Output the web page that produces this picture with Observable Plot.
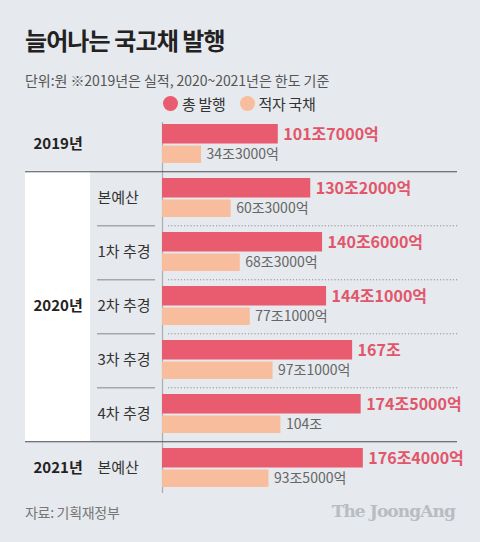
<!DOCTYPE html>
<html>
<head>
<meta charset="utf-8">
<script src="https://cdn.jsdelivr.net/npm/d3@7"></script>
<script src="https://cdn.jsdelivr.net/npm/@observablehq/plot@0.6"></script>
<style>
  html, body { margin: 0; padding: 0; background: #e6e9ed; }
  body { width: 480px; height: 542px; overflow: hidden; font-family: "Noto Sans CJK KR", "Noto Sans", sans-serif; }
  #header { position: relative; width: 480px; height: 112px; }
  #title { position: absolute; left: 25px; top: 26px; font-size: 24px; line-height: 28px; font-weight: 700; color: #222; letter-spacing: -0.9px; }
  #subtitle { position: absolute; left: 25px; top: 71px; font-size: 14px; line-height: 18px; color: #555; letter-spacing: -0.05px; }
  #legend { position: absolute; left: 163px; top: 93px; height: 20px; display: flex; align-items: center; font-size: 15px; color: #333; letter-spacing: -0.3px; }
  .sw { width: 15px; height: 15px; border-radius: 50%; display: inline-block; margin-right: 4px; }
  .item { display: flex; align-items: center; margin-right: 14px; }
  #chart svg { display: block; }
  #footer { position: relative; width: 480px; height: 40px; }
  #source { position: absolute; left: 25px; top: 0px; font-size: 14px; line-height: 20px; color: #777; letter-spacing: -0.3px; }
  #brand { position: absolute; right: 25px; top: -2px; font-family: "DejaVu Serif", "Liberation Serif", serif; font-weight: 700; font-size: 17px; line-height: 22px; color: #b9bcc0; letter-spacing: -0.9px; }
</style>
</head>
<body>
<div id="header">
  <div id="title">늘어나는 국고채 발행</div>
  <div id="subtitle">단위:원 ※2019년은 실적, 2020~2021년은 한도 기준</div>
  <div id="legend"></div>
</div>
<div id="chart"></div>
<div id="footer">
  <div id="source">자료: 기획재정부</div>
  <div id="brand">The JoongAng</div>
</div>
<script>
// ---- data ----
const rows = ["2019", "2020-본예산", "2020-1차", "2020-2차", "2020-3차", "2020-4차", "2021-본예산"];
const groupLabels = ["2019년", "", "", "2020년", "", "", "2021년"];
const subLabels = ["", "본예산", "1차 추경", "2차 추경", "3차 추경", "4차 추경", "본예산"];
const totals = [101.7, 130.2, 140.6, 144.1, 167, 174.5, 176.4];
const deficits = [34.3, 60.3, 68.3, 77.1, 97.1, 104, 93.5];
const totalLabels = ["101조7000억", "130조2000억", "140조6000억", "144조1000억", "167조", "174조5000억", "176조4000억"];
const deficitLabels = ["34조3000억", "60조3000억", "68조3000억", "77조1000억", "97조1000억", "104조", "93조5000억"];
const seriesNames = ["총 발행", "적자 국채"];
const seriesColors = ["#e95b6e", "#f8bd9d"];
const groupBoundaries = ["2019", "2020-4차"];           // solid separators after these rows
const subBoundaries = ["2020-본예산", "2020-1차", "2020-2차", "2020-3차"]; // dotted separators
const boxedRows = ["2020-본예산", "2020-1차", "2020-2차", "2020-3차", "2020-4차"];

const table = rows.map((r, i) => ({
  row: r, group: groupLabels[i], sub: subLabels[i],
  total: totals[i], deficit: deficits[i],
  totalLabel: totalLabels[i], deficitLabel: deficitLabels[i]
}));

// legend
const legend = document.getElementById("legend");
seriesNames.forEach((n, i) => {
  const it = document.createElement("div");
  it.className = "item";
  it.innerHTML = `<span class="sw" style="background:${seriesColors[i]}"></span><span>${n}</span>`;
  legend.appendChild(it);
});

const font = "Noto Sans CJK KR, Noto Sans, sans-serif";
const gap = 27.25;

const chart = Plot.plot({
  width: 480,
  height: 390,
  marginLeft: 162,
  marginRight: 22,
  marginTop: 10,
  marginBottom: 13,
  style: { background: "transparent", fontFamily: font },
  x: { domain: [0, 260], axis: null },
  y: { domain: rows, axis: null, paddingInner: 0.266, paddingOuter: 0 },
  marks: [
    // white box behind 2020 label
    Plot.cell(boxedRows, { y: d => d, fill: "white", insetLeft: -137, insetRight: 368, insetTop: -7.25, insetBottom: -7.25 }),
    // baseline
    Plot.ruleX([0], { stroke: "#a9acb0", strokeWidth: 1.2, insetBottom: -4 }),
    // dotted separators
    Plot.ruleY(subBoundaries, { y: d => d, dy: gap, stroke: "#8d9094", strokeDasharray: "1.2,2", strokeWidth: 1, insetLeft: 6, insetRight: 0 }),
    // short separators in sub-label column
    Plot.ruleY(subBoundaries, { y: d => d, dy: gap, stroke: "#a4a7ab", strokeWidth: 1.5, insetLeft: -65, insetRight: 303 }),
    // main group separators
    Plot.ruleY(groupBoundaries, { y: d => d, dy: gap, stroke: "#4a4c50", strokeWidth: 1.2, insetLeft: -137, insetRight: 1 }),
    // bars
    Plot.barX(table, { y: "row", x: "total", fill: seriesColors[0], insetTop: 0, insetBottom: 20.5 }),
    Plot.barX(table, { y: "row", x: "deficit", fill: seriesColors[1], insetTop: 21.5, insetBottom: 1 }),
    // value labels
    Plot.text(table, { y: "row", x: "total", text: "totalLabel", dx: 5, dy: -9.5, textAnchor: "start",
      fill: "#e1566a", fontWeight: 700, fontSize: 16, style: "letter-spacing:-0.9px" }),
    Plot.text(table, { y: "row", x: "deficit", text: "deficitLabel", dx: 5, dy: 10.5, textAnchor: "start",
      fill: "#666", fontSize: 14, style: "letter-spacing:-0.7px" }),
    // row labels
    Plot.text(table.filter(d => d.group), { y: "row", text: "group", frameAnchor: "left", dx: -129, textAnchor: "start",
      fill: "#222", fontWeight: 700, fontSize: 15, style: "letter-spacing:-0.5px" }),
    Plot.text(table.filter(d => d.sub), { y: "row", text: "sub", frameAnchor: "left", dx: -65, textAnchor: "start",
      fill: "#333", fontSize: 15, style: "letter-spacing:-0.3px" })
  ]
});
document.getElementById("chart").appendChild(chart);
</script>
</body>
</html>
